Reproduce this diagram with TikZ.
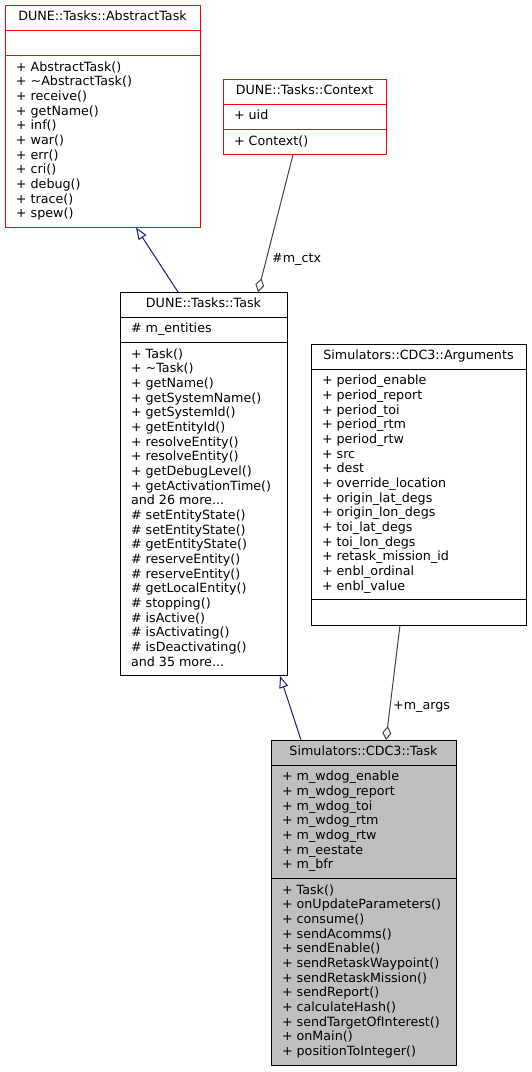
\documentclass[tikz,border=0pt]{standalone}
\usepackage{fontspec}
\setmainfont{DejaVu Sans}
\usetikzlibrary{arrows.meta,shapes.multipart}

\definecolor{edgeblue}{HTML}{191970}
\definecolor{edgegray}{HTML}{404040}
\definecolor{boxred}{HTML}{FF0000}
\definecolor{boxgray}{HTML}{BFBFBF}

\begin{document}
\begin{tikzpicture}[
        x=1pt, y=-1pt,
        font=\fontsize{12.7}{14.67}\selectfont,
        class box/.style={
            draw,
            line width=1pt,
            rectangle split,
            rectangle split parts=3,
            rectangle split part align={center,left,left},
            align=left,
            anchor=north west,
            inner xsep=11pt,
            inner ysep=4.8pt,
            outer sep=0pt
        },
        base box/.style={class box, draw=boxred},
        this box/.style={class box, fill=boxgray},
        inherit/.style={draw=edgeblue, line width=1pt,
            -{Triangle[open, length=12pt, width=9pt]}},
        member/.style={draw=edgegray, line width=1pt,
            {Diamond[open, length=14pt, width=9pt]}-},
        edge label/.style={anchor=west, inner sep=0pt}
    ]
        \useasboundingbox (0,0) rectangle (531,1072);

        \node[base box, minimum width=195pt] (abstracttask) at (5,5)
            {\strut DUNE::Tasks::AbstractTask
             \nodepart{second}\strut
             \nodepart{third}\strut + AbstractTask()\\
             + \textasciitilde AbstractTask()\\
             + receive()\\
             + getName()\\
             + inf()\\
             + war()\\
             + err()\\
             + cri()\\
             + debug()\\
             + trace()\\
             + spew()\strut};
        \node[base box, minimum width=163pt] (context) at (223,79)
            {\strut DUNE::Tasks::Context
             \nodepart{second}\strut + uid
             \nodepart{third}\strut + Context()};
        \node[class box, minimum width=167pt] (dunetask) at (120,292)
            {\strut DUNE::Tasks::Task
             \nodepart{second}\strut \# m\_entities
             \nodepart{third}\strut + Task()\\
             + \textasciitilde Task()\\
             + getName()\\
             + getSystemName()\\
             + getSystemId()\\
             + getEntityId()\\
             + resolveEntity()\\
             + resolveEntity()\\
             + getDebugLevel()\\
             + getActivationTime()\\
             and 26 more...\\
             \# setEntityState()\\
             \# setEntityState()\\
             \# getEntityState()\\
             \# reserveEntity()\\
             \# reserveEntity()\\
             \# getLocalEntity()\\
             \# stopping()\\
             \# isActive()\\
             \# isActivating()\\
             \# isDeactivating()\\
             and 35 more...\strut};
        \node[class box, minimum width=215pt] (arguments) at (311,344)
            {\strut Simulators::CDC3::Arguments
             \nodepart{second}\strut + period\_enable\\
             + period\_report\\
             + period\_toi\\
             + period\_rtm\\
             + period\_rtw\\
             + src\\
             + dest\\
             + override\_location\\
             + origin\_lat\_degs\\
             + origin\_lon\_degs\\
             + toi\_lat\_degs\\
             + toi\_lon\_degs\\
             + retask\_mission\_id\\
             + enbl\_ordinal\\
             + enbl\_value\strut
             \nodepart{third}\strut};
        \node[this box, minimum width=185pt] (cdctask) at (271,740)
            {\strut Simulators::CDC3::Task
             \nodepart{second}\strut + m\_wdog\_enable\\
             + m\_wdog\_report\\
             + m\_wdog\_toi\\
             + m\_wdog\_rtm\\
             + m\_wdog\_rtw\\
             + m\_eestate\\
             + m\_bfr\strut
             \nodepart{third}\strut + Task()\\
             + onUpdateParameters()\\
             + consume()\\
             + sendAcomms()\\
             + sendEnable()\\
             + sendRetaskWaypoint()\\
             + sendRetaskMission()\\
             + sendReport()\\
             + calculateHash()\\
             + sendTargetOfInterest()\\
             + onMain()\\
             + positionToInteger()\strut};

        \node[edge label] (ctxlabel) at (272,259) {\#m\_ctx};
        \node[edge label] (argslabel) at (393,707) {+m\_args};

        \draw[inherit] ([xshift=-25.5pt]dunetask.north) -- ([xshift=33.5pt]abstracttask.south);
        \draw[member] ([xshift=54.5pt]dunetask.north) -- ([xshift=-11.5pt]context.south);
        \draw[inherit] ([xshift=-62.5pt]cdctask.north) -- ([xshift=76.5pt]dunetask.south);
        \draw[member] ([xshift=22.5pt]cdctask.north) -- ([xshift=-18.5pt]arguments.south);
    \end{tikzpicture}
\end{document}
